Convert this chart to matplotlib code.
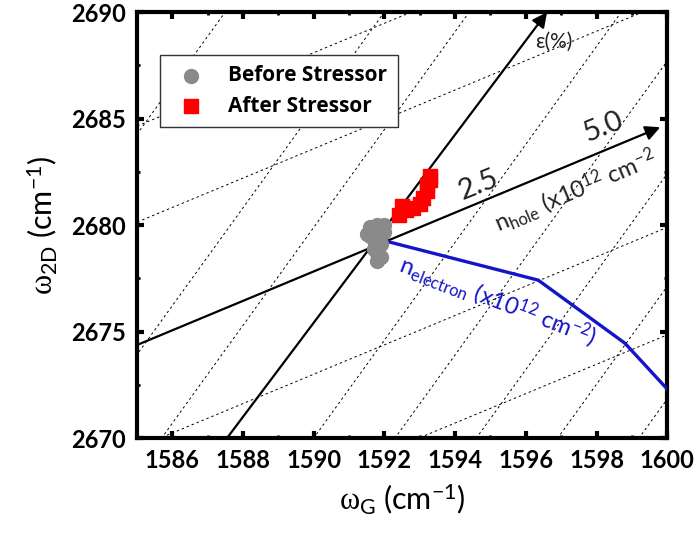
import numpy as np
import matplotlib
matplotlib.use('Agg')
import matplotlib.pyplot as plt
from matplotlib.ticker import MultipleLocator

plt.rcParams['font.family'] = ['Lato', 'DejaVu Sans']
plt.rcParams['mathtext.fontset'] = 'custom'
plt.rcParams['mathtext.rm'] = 'Lato'
plt.rcParams['mathtext.it'] = 'Liberation Serif'
plt.rcParams['mathtext.bf'] = 'Lato:bold'

# Raman peak positions
before_g = [1591.8, 1591.9, 1592.0, 1591.6, 1591.7, 1591.9, 1591.7, 1591.8, 1591.9, 1591.8, 1591.5, 1592.0, 1591.6]
before_2d = [2680.0, 2679.8, 2679.7, 2679.5, 2679.3, 2679.1, 2678.9, 2678.7, 2678.5, 2678.3, 2679.6, 2680.0, 2679.9]
after_g = [1592.4, 1592.6, 1592.8, 1593.0, 1593.1, 1593.2, 1593.2, 1593.3, 1593.3, 1592.5]
after_2d = [2680.5, 2680.7, 2680.8, 2681.0, 2681.3, 2681.6, 2681.9, 2682.1, 2682.3, 2680.9]

# guide lines
strain_x = [1587.55, 1596.6]
strain_y = [2670.0, 2690.0]
hole_x = [1585.0, 1599.8]
hole_y = [2674.37, 2684.6]
electron_x = [1591.93, 1596.35, 1598.8, 1600.0]
electron_y = [2679.3, 2677.42, 2674.46, 2672.3]

# dashed grid: steep lines (x where they cross 2670) and shallow lines (y at 1585)
steep_x0 = [1578.8, 1583.3, 1585.7, 1590.0, 1592.3, 1594.6, 1596.9, 1599.2]
steep_slope = 2.3
shallow_y0 = [2684.65, 2680.14, 2669.55, 2664.5]
shallow_slope = 0.69

fig, ax = plt.subplots(figsize=(6.98, 5.33), dpi=100)
plt.subplots_adjust(left=0.196, right=0.956, bottom=0.178, top=0.977)

xx = np.array([1570, 1610])
for x0 in steep_x0:
    ax.plot(xx, 2670 + steep_slope * (xx - x0), color='k', lw=0.7, dashes=(2.5, 3))
for y0 in shallow_y0:
    ax.plot(xx, y0 + shallow_slope * (xx - 1585), color='k', lw=0.7, dashes=(2.5, 3))

arrow = dict(arrowstyle='-|>', color='k', lw=1.6, mutation_scale=22, shrinkA=0, shrinkB=0)
ax.annotate('', xy=(strain_x[1], strain_y[1]), xytext=(strain_x[0], strain_y[0]), arrowprops=arrow)
ax.annotate('', xy=(hole_x[1], hole_y[1]), xytext=(hole_x[0], hole_y[0]), arrowprops=arrow)
ax.plot(electron_x, electron_y, color='#1414c8', lw=2.4, zorder=3)

ax.scatter(before_g, before_2d, s=100, marker='o', color='#8a8a8a', zorder=4, label='Before Stressor')
ax.scatter(after_g, after_2d, s=100, marker='s', color='#ff0000', zorder=4, label='After Stressor')

ax.text(1596.8, 2688.6, 'ε(%)', fontsize=15, ha='center', va='center', color='#222222')
ax.text(1594.66, 2681.9, '2.5', fontsize=21, rotation=22, ha='center', va='center', color='#222222')
ax.text(1598.2, 2684.6, '5.0', fontsize=21, rotation=22, ha='center', va='center', color='#222222')
ax.text(1597.4, 2681.6, r'n$_{\mathrm{hole}}$ (x10$^{\mathrm{12}}$ cm$^{\mathrm{-2}}$', fontsize=17,
        rotation=23, ha='center', va='center', color='#222222')
ax.text(1595.2, 2676.45, r'n$_{\mathrm{electron}}$ (x10$^{\mathrm{12}}$ cm$^{\mathrm{-2}}$)', fontsize=17,
        rotation=-21, ha='center', va='center', color='#1414c8')

ax.set_xlim(1585, 1600)
ax.set_ylim(2670, 2690)
ax.xaxis.set_major_locator(MultipleLocator(2))
ax.xaxis.set_minor_locator(MultipleLocator(1))
ax.yaxis.set_major_locator(MultipleLocator(5))
ax.yaxis.set_minor_locator(MultipleLocator(2.5))
ax.tick_params(which='both', direction='in', top=True, right=True)
ax.tick_params(which='major', length=5, width=3, pad=8)
ax.tick_params(which='minor', length=2.5, width=2)
for lab in ax.get_xticklabels() + ax.get_yticklabels():
    lab.set_fontsize(17)
    lab.set_fontweight('bold')
for sp in ax.spines.values():
    sp.set_linewidth(3)

ax.set_xlabel(r'$\omega_{\mathrm{G}}$ (cm$^{\mathrm{-1}}$)', fontsize=22, labelpad=8)
ax.set_ylabel(r'$\omega_{\mathrm{2D}}$ (cm$^{\mathrm{-1}}$)', fontsize=22, labelpad=8)

leg = ax.legend(loc='upper left', bbox_to_anchor=(0.043, 0.9), borderaxespad=0,
                fancybox=False, edgecolor='#333333', framealpha=1,
                prop={'family': 'Open Sans', 'size': 15, 'weight': 'bold'},
                handletextpad=0.8, labelspacing=0.45, borderpad=0.5)
leg.get_frame().set_linewidth(1.0)

plt.savefig('out.png', dpi=100)
